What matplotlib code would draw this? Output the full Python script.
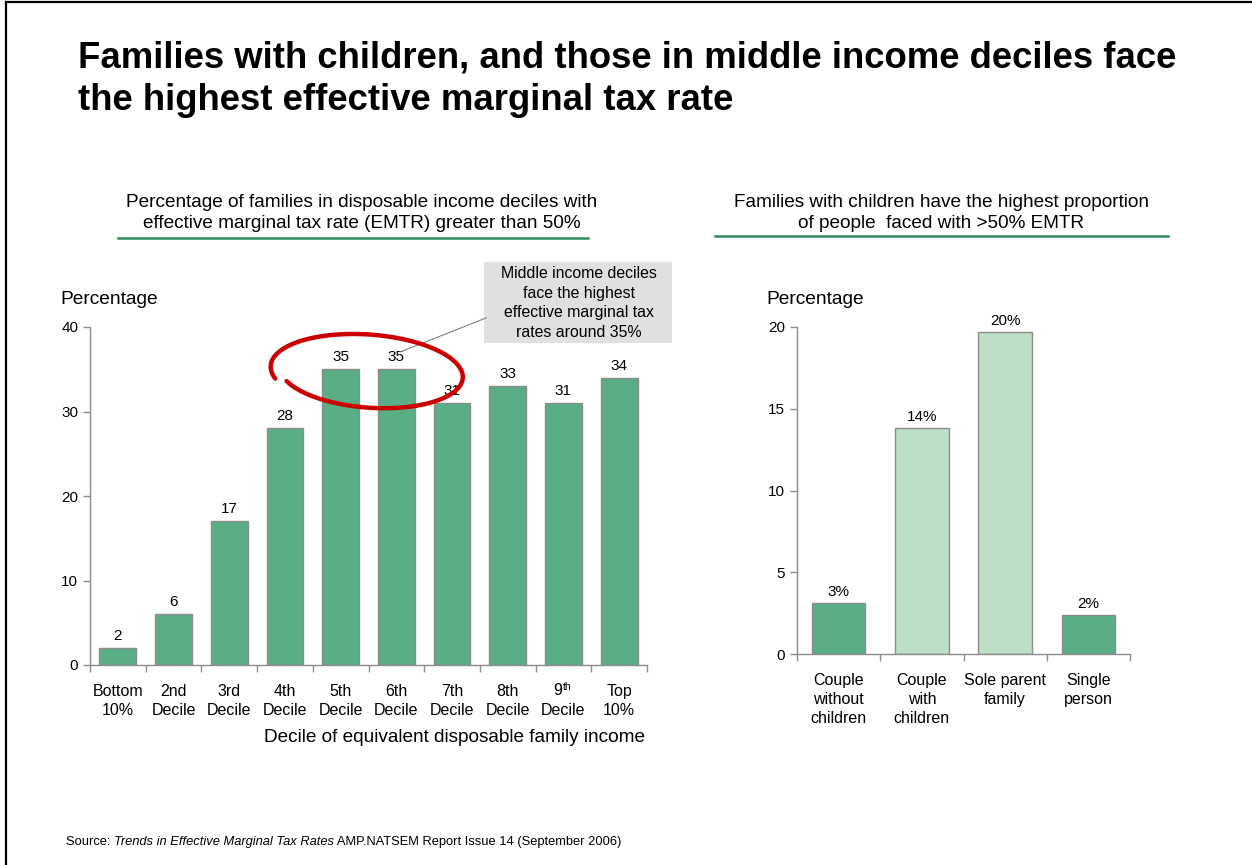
import numpy as np
import matplotlib
matplotlib.use("Agg")
import matplotlib.pyplot as plt
from matplotlib.lines import Line2D
from matplotlib.patches import Rectangle

plt.rcParams['font.family'] = ['Liberation Sans', 'DejaVu Sans']

# deciles of equivalent disposable family income ("9th" label is drawn separately)
decile_labels = ["Bottom\n10%", "2nd\nDecile", "3rd\nDecile", "4th\nDecile", "5th\nDecile",
                 "6th\nDecile", "7th\nDecile", "8th\nDecile", "", "Top\n10%"]
decile_pct = [2, 6, 17, 28, 35, 35, 31, 33, 31, 34]

# family types
family_labels = ["Couple\nwithout\nchildren", "Couple\nwith\nchildren", "Sole parent\nfamily", "Single\nperson"]
family_pct = [3.1, 13.8, 19.7, 2.4]
family_has_kids = [False, True, True, False]

DARK = "#5aae85"
LIGHT = "#bcdfc5"
EDGE = "#8c8c8c"
AXIS = "#8c8c8c"
RULE = "#2f8a60"

W, H = 1252, 865
fig = plt.figure(figsize=(W / 100, H / 100), dpi=100)


def fx(px):
    return px / W


def fy(py):
    return 1 - py / H


# page frame (top and left edges)
fig.add_artist(Line2D([fx(6), 1], [fy(2), fy(2)], color="black", lw=1.6))
fig.add_artist(Line2D([fx(6), fx(6)], [fy(2), 0], color="black", lw=1.6))

fig.text(fx(78), fy(58), "Families with children, and those in middle income deciles face",
         fontsize=26.3, fontweight="bold", va="center", ha="left")
fig.text(fx(78), fy(101), "the highest effective marginal tax rate",
         fontsize=26.3, fontweight="bold", va="center", ha="left")

# panel headings with green rule
fig.text(fx(362), fy(213), "Percentage of families in disposable income deciles with\n"
         "effective marginal tax rate (EMTR) greater than 50%",
         fontsize=13.7, ha="center", va="center", linespacing=1.32)
fig.add_artist(Line2D([fx(118), fx(588)], [fy(238), fy(238)], color=RULE, lw=1.8))
fig.text(fx(941), fy(213), "Families with children have the highest proportion\n"
         "of people  faced with >50% EMTR",
         fontsize=13.7, ha="center", va="center", linespacing=1.32)
fig.add_artist(Line2D([fx(715), fx(1168)], [fy(236), fy(236)], color=RULE, lw=1.8))


def style_axes(ax):
    for s in ("top", "right"):
        ax.spines[s].set_visible(False)
    for s in ("left", "bottom"):
        ax.spines[s].set_color(AXIS)
        ax.spines[s].set_linewidth(1.0)
    ax.tick_params(axis="y", colors=AXIS, labelcolor="black", labelsize=11, length=5, width=1.0)
    ax.tick_params(axis="x", which="major", length=0, labelsize=11.5, pad=14)
    ax.tick_params(axis="x", which="minor", colors=AXIS, length=5, width=1.0, direction="out")


# left panel: deciles
ax1 = fig.add_axes([fx(90), fy(665), fx(647) - fx(90), fy(327) - fy(665)])
x1 = np.arange(len(decile_pct))
ax1.bar(x1, decile_pct, width=0.66, color=DARK, edgecolor=EDGE, linewidth=1.0)
ax1.set_xlim(-0.5, len(decile_pct) - 0.5)
ax1.set_ylim(0, 40)
ax1.set_yticks([0, 10, 20, 30, 40])
ax1.set_xticks(x1)
ax1.set_xticklabels(decile_labels, linespacing=1.3)
ax1.set_xticks(np.arange(-0.5, len(decile_pct)), minor=True)
style_axes(ax1)
for xi, v in zip(x1, decile_pct):
    ax1.text(xi, v + 0.6, f"{v:.0f}", ha="center", va="bottom", fontsize=11)
# "9th Decile" with a raised ordinal
ax1.annotate("9", xy=(8, 0), xycoords=("data", "axes fraction"), xytext=(-0.6, -18.2),
             textcoords="offset points", fontsize=11.5, ha="right", va="center")
ax1.annotate("th", xy=(8, 0), xycoords=("data", "axes fraction"), xytext=(-0.2, -15.5),
             textcoords="offset points", fontsize=7.5, ha="left", va="center")
ax1.annotate("Decile", xy=(8, 0), xycoords=("data", "axes fraction"), xytext=(0, -32.6),
             textcoords="offset points", fontsize=11.5, ha="center", va="center")
fig.text(fx(454), fy(738), "Decile of equivalent disposable family income", fontsize=13.7,
         ha="center", va="center")
fig.text(fx(60), fy(299), "Percentage", fontsize=13.8, ha="left", va="center")

# right panel: family types
ax2 = fig.add_axes([fx(797), fy(654), fx(1130) - fx(797), fy(327) - fy(654)])
x2 = np.arange(len(family_pct))
colors2 = [LIGHT if k else DARK for k in family_has_kids]
ax2.bar(x2, family_pct, width=0.64, color=colors2, edgecolor=EDGE, linewidth=1.0)
ax2.set_xlim(-0.5, len(family_pct) - 0.5)
ax2.set_ylim(0, 20)
ax2.set_yticks([0, 5, 10, 15, 20])
ax2.set_xticks(x2)
ax2.set_xticklabels(family_labels, linespacing=1.3)
ax2.set_xticks(np.arange(-0.5, len(family_pct)), minor=True)
style_axes(ax2)
for xi, v in zip(x2, family_pct):
    ax2.text(xi, v + 0.25, f"{v:.0f}%", ha="center", va="bottom", fontsize=11)
fig.text(fx(766), fy(299), "Percentage", fontsize=13.8, ha="left", va="center")

# callout box and leader line
fig.add_artist(Rectangle((fx(484), fy(343)), fx(672) - fx(484), fy(262) - fy(343),
                         facecolor="#e0e0e0", edgecolor="none"))
fig.text(fx(579), fy(303), "Middle income deciles\nface the highest\neffective marginal tax\nrates around 35%",
         fontsize=11.4, ha="center", va="center", linespacing=1.38)
fig.add_artist(Line2D([fx(486), fx(400)], [fy(318), fy(352)], color="#808080", lw=0.8))

# hand-drawn red loop around the 5th and 6th deciles
t = np.radians(np.linspace(205, 560, 300))
grow = 1 + 0.10 * (t - t[0]) / (t[-1] - t[0])
ex = 90 * grow * np.cos(t)
ey = 35 * grow * np.sin(t)
rot = np.radians(-4)
px = 369 + ex * np.cos(rot) - ey * np.sin(rot)
py = 372 - (ex * np.sin(rot) + ey * np.cos(rot))
fig.add_artist(Line2D(fx(px), fy(py), color="#cc0000", lw=3.2, solid_capstyle="round"))

# source line with italic title
src = fig.text(fx(66), fy(842), "Source: ", fontsize=9.3, ha="left", va="center")
src2 = fig.text(0, 0, "Trends in Effective Marginal Tax Rates", fontsize=9.3, style="italic",
                ha="left", va="bottom")
src3 = fig.text(0, 0, " AMP.NATSEM Report Issue 14 (September 2006)", fontsize=9.3,
                ha="left", va="bottom")
fig.canvas.draw()
r = fig.canvas.get_renderer()
bb = src.get_window_extent(r)
src2.set_position((bb.x1 / W, bb.y0 / H))
fig.canvas.draw()
bb2 = src2.get_window_extent(r)
src3.set_position((bb2.x1 / W, bb.y0 / H))

fig.savefig("out.png", dpi=100)
